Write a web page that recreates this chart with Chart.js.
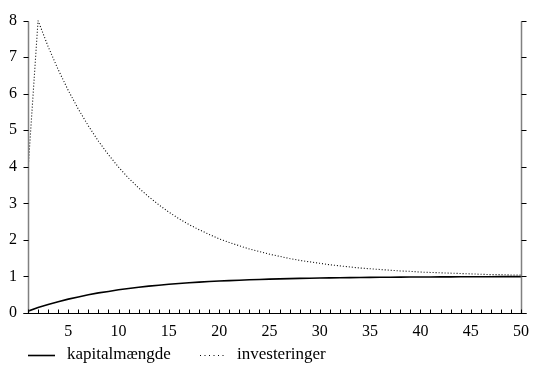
<!DOCTYPE html>
<html>
<head>
<meta charset="utf-8">
<script src="https://cdn.jsdelivr.net/npm/chart.js@4.4.1/dist/chart.umd.min.js"></script>
<style>
  html, body { margin: 0; padding: 0; background: #fff; }
  #wrap { width: 533px; height: 365px; }
</style>
</head>
<body>
<div id="wrap"><canvas id="c" width="533" height="365"></canvas></div>
<script>
// perioder 1..50
var perioder = [];
for (var i = 1; i <= 50; i++) perioder.push(i);

var kapitalmaengde = [0.05, 0.15, 0.23, 0.31, 0.38, 0.44, 0.50, 0.55, 0.59, 0.635,
  0.672, 0.705, 0.735, 0.761, 0.785, 0.807, 0.826, 0.844, 0.860, 0.874,
  0.887, 0.898, 0.908, 0.918, 0.926, 0.933, 0.940, 0.946, 0.952, 0.956,
  0.961, 0.965, 0.968, 0.972, 0.974, 0.977, 0.979, 0.981, 0.983, 0.985,
  0.986, 0.988, 0.989, 0.990, 0.991, 0.992, 0.993, 0.994, 0.994, 0.995];

var investeringer = [3.9, 8.00, 7.29, 6.66, 6.09, 5.58, 5.12, 4.70, 4.33, 3.99,
  3.69, 3.42, 3.18, 2.96, 2.76, 2.58, 2.42, 2.28, 2.15, 2.03,
  1.93, 1.84, 1.75, 1.68, 1.61, 1.55, 1.49, 1.44, 1.40, 1.36,
  1.32, 1.29, 1.26, 1.23, 1.21, 1.19, 1.17, 1.15, 1.14, 1.12,
  1.11, 1.10, 1.09, 1.08, 1.07, 1.06, 1.05, 1.05, 1.04, 1.04];

var yTicks = [0, 1, 2, 3, 4, 5, 6, 7, 8];
var xLabelTicks = [5, 10, 15, 20, 25, 30, 35, 40, 45, 50];

function toPoints(ys) {
  return perioder.map(function (x, i) { return { x: x, y: ys[i] }; });
}

var FONT = "'Liberation Serif', 'Times New Roman', serif";

// egne akser: graa lodrette akser med ticks udad, sort bundakse med ticks indad
var axisPlugin = {
  id: 'axes',
  afterDraw: function (chart) {
    var ctx = chart.ctx, xs = chart.scales.x, ys = chart.scales.y;
    var l = Math.round(xs.getPixelForValue(1)) + 0.5;
    var r = Math.round(xs.getPixelForValue(50)) + 0.5;
    var t = Math.round(ys.getPixelForValue(8)) + 0.5;
    var b = Math.round(ys.getPixelForValue(0)) + 0.5;
    ctx.save();
    ctx.lineWidth = 1.5;
    ctx.strokeStyle = '#808080';
    ctx.beginPath();
    ctx.moveTo(l, t); ctx.lineTo(l, b);
    ctx.moveTo(r, t); ctx.lineTo(r, b);
    ctx.stroke();
    ctx.lineWidth = 1;
    ctx.strokeStyle = '#000';
    ctx.beginPath();
    yTicks.forEach(function (v) {
      var y = Math.round(ys.getPixelForValue(v)) + 0.5;
      ctx.moveTo(l - 5, y); ctx.lineTo(l, y);
      ctx.moveTo(r, y); ctx.lineTo(r + 5, y);
    });
    perioder.forEach(function (v) {
      var x = Math.round(xs.getPixelForValue(v)) + 0.5;
      ctx.moveTo(x, b); ctx.lineTo(x, b - 4);
    });
    ctx.moveTo(l - 5, b); ctx.lineTo(r + 5, b);
    ctx.stroke();

    // forklaring
    var ly = 355.5;
    ctx.beginPath();
    ctx.lineWidth = 1.6;
    ctx.moveTo(28, ly); ctx.lineTo(55, ly);
    ctx.stroke();
    ctx.beginPath();
    ctx.lineWidth = 1;
    ctx.setLineDash([1, 3.5]);
    ctx.moveTo(200, ly); ctx.lineTo(226, ly);
    ctx.stroke();
    ctx.setLineDash([]);
    ctx.fillStyle = '#000';
    ctx.font = '17px ' + FONT;
    ctx.textBaseline = 'middle';
    ctx.fillText(chart.data.datasets[0].label, 67, ly - 1);
    ctx.fillText(chart.data.datasets[1].label, 237, ly - 1);
    ctx.restore();
  }
};

new Chart(document.getElementById('c'), {
  type: 'line',
  data: {
    datasets: [{
      label: 'kapitalmængde',
      data: toPoints(kapitalmaengde),
      borderColor: '#000',
      borderWidth: 1.6,
      pointRadius: 0,
      tension: 0
    }, {
      label: 'investeringer',
      data: toPoints(investeringer),
      borderColor: '#000',
      borderWidth: 1.1,
      borderDash: [1, 2],
      pointRadius: 0,
      tension: 0
    }]
  },
  options: {
    responsive: false,
    animation: false,
    layout: { padding: { left: 0, right: 12, top: 17, bottom: 0 } },
    scales: {
      x: {
        type: 'linear',
        min: 1, max: 50,
        grid: { display: false, drawTicks: false },
        border: { display: false },
        afterFit: function (s) { s.height = 52; s.paddingRight = 0; s.paddingLeft = 0; },
        ticks: {
          stepSize: 1,
          autoSkip: false,
          maxRotation: 0,
          padding: 9,
          color: '#000',
          font: { family: FONT, size: 16 },
          callback: function (v) { return xLabelTicks.indexOf(v) >= 0 ? String(v) : ''; }
        }
      },
      y: {
        min: 0, max: 8,
        grid: { display: false, drawTicks: false },
        border: { display: false },
        afterFit: function (s) { s.width = 28; },
        ticks: {
          stepSize: 1,
          padding: 11,
          color: '#000',
          font: { family: FONT, size: 16 }
        }
      }
    },
    plugins: {
      tooltip: { enabled: false },
      legend: { display: false }
    }
  },
  plugins: [axisPlugin]
});
</script>
</body>
</html>
